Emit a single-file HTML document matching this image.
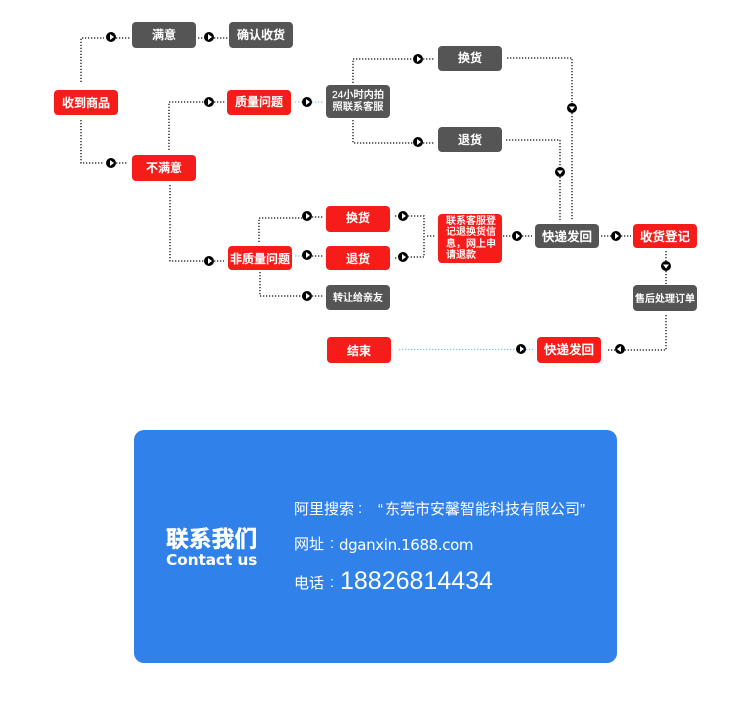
<!DOCTYPE html>
<html lang="zh">
<head>
<meta charset="utf-8">
<title>售后流程</title>
<style>
html,body{margin:0;padding:0;background:#fff;}
#p{position:relative;width:750px;height:703px;overflow:hidden;background:#fff;font-family:"Liberation Sans","Noto Sans CJK SC",sans-serif;}
svg{position:absolute;left:0;top:0;}
.b{position:absolute;box-sizing:border-box;width:64px;display:flex;align-items:center;justify-content:center;color:#fff;border-radius:4px;font-size:12px;font-weight:500;white-space:nowrap;padding-bottom:2px;-webkit-text-stroke:.3px #fff;}
.r{background:#f61c19;}
.d{background:#555555;}
.s{font-size:10.200px;line-height:12px;text-align:center;-webkit-text-stroke:.15px #fff;}
.t{position:absolute;color:#fff;white-space:nowrap;}
</style>
</head>
<body>
<div id="p">
<svg width="750" height="703" viewBox="0 0 750 703" fill="none">
<g stroke="#111" stroke-width="1.300" stroke-dasharray="1.300 1.700">
<path d="M81 82V38H104M116 38H130"/>
<path d="M198 38H204M214 38H228"/>
<path d="M81 120V163H104M116 163H128"/>
<path d="M169 150V102H204M214 102H226"/>
<path d="M170 185V261H204M214 261H224"/>
<path d="M353 83V59H413M423 59H434"/>
<path d="M353 120V143H413M423 143H434"/>
<path d="M507 58H572V103M572 113V220"/>
<path d="M506 140H560V167M560 177V220"/>
<path d="M259 242V218H302M312 217H323"/>
<path d="M312 256H323"/>
<path d="M260 272V296H302M312 296H323"/>
<path d="M395 216H398M408 216H424V257H408M395 258H398"/>
<path d="M427 236H436"/>
<path d="M503 236H512M522 236H532"/>
<path d="M601 236H611M621 236H631"/>
<path d="M666 251V261M666 271V284"/>
<path d="M666 315V350H625M608 350H615"/>
</g>
<g stroke="#7cc4ee" stroke-width="1.300" stroke-dasharray="1.300 1.700">
<path d="M295 102H302M312 102H324"/>
<path d="M295 256H302"/>
<path d="M399 349.500H516M526 349.500H533"/>
</g>
<g fill="#000">
<circle cx="111" cy="37" r="5"/><circle cx="209" cy="37" r="5"/><circle cx="209" cy="102" r="5"/>
<circle cx="111" cy="163" r="5"/><circle cx="307" cy="102" r="5"/><circle cx="418" cy="59" r="5"/>
<circle cx="418" cy="142" r="5"/><circle cx="307" cy="216" r="5"/><circle cx="307" cy="255" r="5"/>
<circle cx="307" cy="296" r="5"/><circle cx="209" cy="261" r="5"/><circle cx="403" cy="216" r="5"/>
<circle cx="403" cy="257" r="5"/><circle cx="517" cy="236" r="5"/><circle cx="616" cy="236" r="5"/>
<circle cx="521" cy="349" r="5"/><circle cx="620" cy="349" r="5"/>
<circle cx="572" cy="108" r="5"/><circle cx="560" cy="172" r="5"/><circle cx="666" cy="266" r="5"/>
</g>
<g fill="#fff">
<path d="M110 34L114 37L110 40Z"/><path d="M208 34L212 37L208 40Z"/><path d="M208 99L212 102L208 105Z"/>
<path d="M110 160L114 163L110 166Z"/><path d="M306 99L310 102L306 105Z"/><path d="M417 56L421 59L417 62Z"/>
<path d="M417 139L421 142L417 145Z"/><path d="M306 213L310 216L306 219Z"/><path d="M306 252L310 255L306 258Z"/>
<path d="M306 293L310 296L306 299Z"/><path d="M208 258L212 261L208 264Z"/><path d="M402 213L406 216L402 219Z"/>
<path d="M402 254L406 257L402 260Z"/><path d="M516 233L520 236L516 239Z"/><path d="M615 233L619 236L615 239Z"/>
<path d="M520 346L524 349L520 352Z"/><path d="M621 346L617 349L621 352Z"/>
<path d="M569 106.500H575L572 110.500Z"/><path d="M557 170.500H563L560 174.500Z"/><path d="M663 264.500H669L666 268.500Z"/>
</g>
</svg>

<div class="b d" style="left:132px;top:22px;height:26px;">满意</div>
<div class="b d" style="left:229px;top:22px;height:26px;">确认收货</div>
<div class="b r" style="left:54px;top:90px;height:25px;padding-bottom:0;">收到商品</div>
<div class="b r" style="left:227px;top:90px;height:25px;">质量问题</div>
<div class="b r" style="left:132px;top:155px;height:26px;">不满意</div>
<div class="b d s" style="left:326px;top:85px;height:33px;padding-bottom:0;">24小时内拍<br>照联系客服</div>
<div class="b d" style="left:438px;top:46px;height:25px;">换货</div>
<div class="b d" style="left:438px;top:127px;height:25px;padding-bottom:0;">退货</div>
<div class="b r" style="left:326px;top:206px;height:26px;padding-bottom:3px;">换货</div>
<div class="b r" style="left:228px;top:246px;height:24px;padding-bottom:0;">非质量问题</div>
<div class="b r" style="left:326px;top:246px;height:24px;padding-bottom:0;">退货</div>
<div class="b d" style="left:326px;top:285px;height:25px;font-size:10px;-webkit-text-stroke:.2px #fff;">转让给亲友</div>
<div class="b r" style="left:327px;top:337px;height:26px;padding-bottom:0;">结束</div>
<div class="b r s" style="left:438px;top:214px;height:49px;line-height:11.500px;text-align:left;justify-content:flex-start;padding:0 0 0 8px;font-size:10px;">联系客服登<br>记退换货信<br>息，网上申<br>请退款</div>
<div class="b d" style="left:535px;top:224px;height:24px;font-size:12.500px;">快递发回</div>
<div class="b r" style="left:633px;top:224px;height:24px;font-size:12.500px;">收货登记</div>
<div class="b d" style="left:633px;top:285px;height:26px;font-size:10px;-webkit-text-stroke:.2px #fff;">售后处理订单</div>
<div class="b r" style="left:537px;top:337px;height:26px;font-size:12.500px;padding-bottom:3px;">快递发回</div>

<div style="position:absolute;left:134px;top:430px;width:483px;height:233px;background:#3081ea;border-radius:10px;"></div>
<div class="t" style="left:166px;top:524px;font-size:22.800px;line-height:30px;font-weight:700;-webkit-text-stroke:.5px #fff;">联系我们</div>
<div class="t" style="left:166px;top:549px;font-size:15.500px;line-height:22px;font-weight:700;font-family:'DejaVu Sans',sans-serif;letter-spacing:-.2px;">Contact us</div>
<div class="t" style="left:294px;top:499px;font-size:15px;line-height:22px;">阿里搜索</div>
<div class="t" style="left:358px;top:498px;font-size:15px;line-height:22px;">:</div>
<div class="t" style="left:378px;top:499px;font-size:15px;line-height:22px;">“</div>
<div class="t" style="left:385px;top:499px;font-size:15px;line-height:22px;">东莞市安馨智能科技有限公司</div>
<div class="t" style="left:580px;top:499px;font-size:15px;line-height:22px;">”</div>
<div class="t" style="left:294px;top:534px;font-size:15px;line-height:22px;">网址</div>
<div class="t" style="left:330px;top:533px;font-size:15px;line-height:22px;">:</div>
<div class="t" style="left:339px;top:534px;font-size:15px;line-height:22px;font-family:'DejaVu Sans',sans-serif;letter-spacing:-.37px;">dganxin.1688.com</div>
<div class="t" style="left:294px;top:573px;font-size:15px;line-height:22px;">电话</div>
<div class="t" style="left:330px;top:572px;font-size:15px;line-height:22px;">:</div>
<div class="t" style="left:340px;top:566px;font-size:25px;line-height:30px;">18826814434</div>
</div>
</body>
</html>
